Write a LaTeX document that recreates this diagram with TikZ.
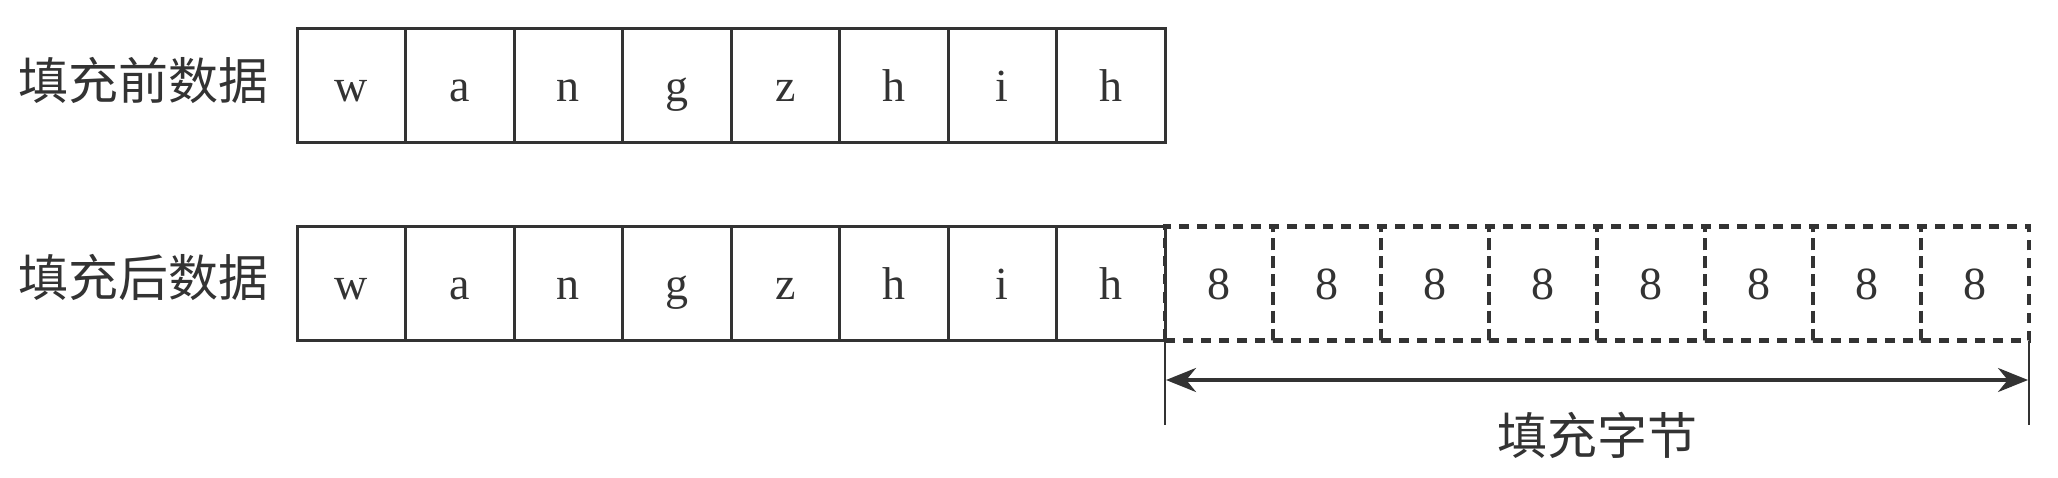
\documentclass[tikz,border=0pt]{standalone}
\usepackage{fontspec}
\setmainfont{Liberation Serif}
\newfontfamily\cjk{Noto Sans CJK SC}
\usetikzlibrary{arrows.meta}
\definecolor{lc}{HTML}{333333}
\begin{document}
\begin{tikzpicture}[x=1pt,y=-1pt,
  cell/.style={draw=lc,line width=3pt,minimum width=108.5pt,minimum height=114pt,inner sep=0pt,outer sep=0pt,
    text height=38pt,text depth=6pt,text=lc,font=\fontsize{46}{50}\selectfont},
  pad/.style={cell,dash pattern=on 10pt off 8pt,line width=4.5pt,minimum width=108pt},
  lab/.style={font=\cjk\fontsize{50}{60}\selectfont,text=lc,inner sep=0pt},
  tick/.style={draw=lc,line width=2.2pt},
  span/.style={draw=lc,line width=3.5pt,{Stealth[length=30pt,width=24pt]}-{Stealth[length=30pt,width=24pt]}}]
\useasboundingbox (0,0) rectangle (2058,478);
\fill[white] (0,0) rectangle (2058,478);
\node[lab] (l1) at (143,80) {填充前数据};
\node[lab] (l2) at (143,277) {填充后数据};
\foreach \c [count=\i] in {w,a,n,g,z,h,i,h}{
  \node[cell] (a\i) at ({297+108.5*(\i-0.5)},86) {\c};
  \node[cell] (b\i) at ({297+108.5*(\i-0.5)},283.5) {\c};
}
\foreach \i in {1,...,8}{
  \node[pad] (p\i) at ({1165+108*(\i-0.5)},283.5) {8};
}
\coordinate (t1) at (1165,425);
\coordinate (t2) at (2029,425);
\coordinate (s1) at (1166,380);
\coordinate (s2) at (2028,380);
\draw[tick] (b8.south east) -- (t1);
\draw[tick] (p8.south east) -- (t2);
\draw[span] (s1) -- (s2);
\node[lab] (pl) at (1597,435) {填充字节};
\end{tikzpicture}
\end{document}
